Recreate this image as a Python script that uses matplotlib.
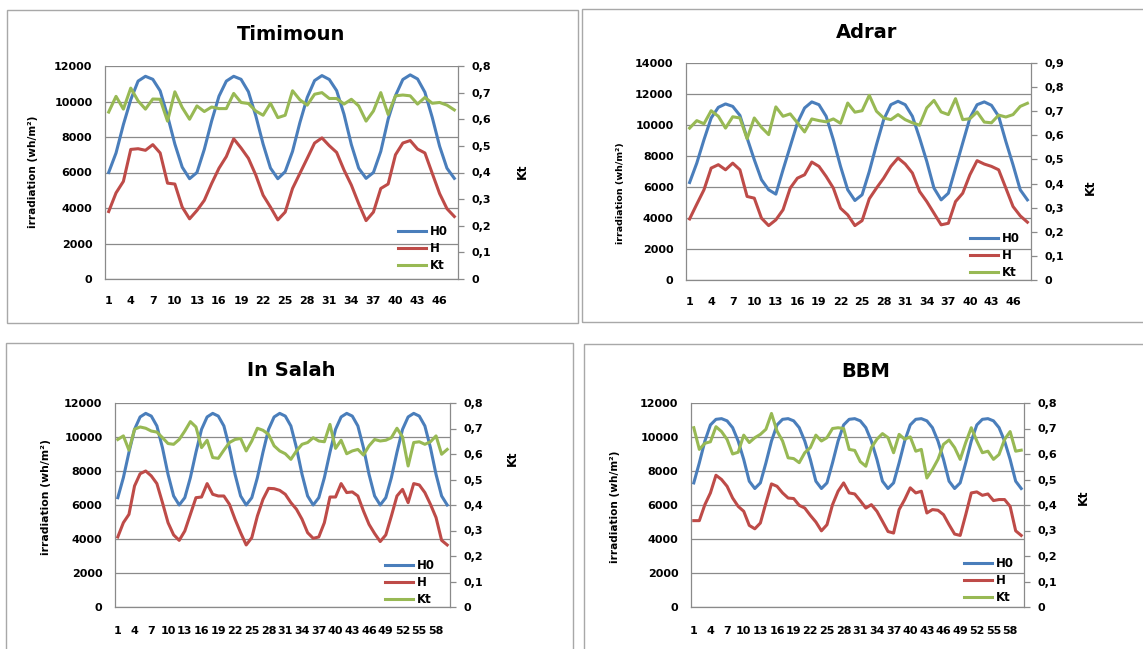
import matplotlib
matplotlib.use('Agg')
import matplotlib.pyplot as plt
from matplotlib.patches import Rectangle
from matplotlib.ticker import FuncFormatter

plt.rcParams['font.family'] = ['DejaVu Sans']
plt.rcParams['font.weight'] = 'bold'

# ---- data ----
timimoun_h0 = [6000, 7100, 8700, 10100, 11150, 11420, 11250, 10600, 9200, 7600, 6300, 5650,
               6000, 7300, 8900, 10300, 11150, 11420, 11250, 10550, 9200, 7600, 6250, 5650,
               6050, 7190, 8810, 10230, 11180, 11460, 11240, 10610, 9280, 7570, 6240, 5670,
               6000, 7190, 9000, 10330, 11240, 11500, 11270, 10520, 9100, 7480, 6240, 5670]
timimoun_h = [3800, 4850, 5500, 7300, 7340, 7250, 7570, 7100, 5400, 5350, 4050, 3390,
              3860, 4430, 5380, 6240, 6900, 7900, 7380, 6800, 5860, 4720, 4050, 3330,
              3770, 5100, 5950, 6800, 7660, 7950, 7510, 7130, 6140, 5290, 4240, 3290,
              3770, 5100, 5350, 7000, 7660, 7800, 7320, 7100, 5950, 4810, 3960, 3520]
timimoun_kt = [0.627, 0.686, 0.638, 0.717, 0.669, 0.638, 0.676, 0.675, 0.593, 0.703, 0.644, 0.600,
               0.650, 0.629, 0.646, 0.640, 0.640, 0.697, 0.663, 0.659, 0.631, 0.615, 0.660, 0.606,
               0.615, 0.707, 0.673, 0.653, 0.694, 0.700, 0.678, 0.678, 0.657, 0.675, 0.650, 0.593,
               0.631, 0.700, 0.618, 0.688, 0.691, 0.688, 0.657, 0.682, 0.660, 0.663, 0.653, 0.635]

adrar_h0 = [6290, 7540, 9050, 10450, 11140, 11360, 11200, 10620, 9160, 7760, 6470, 5820,
            5540, 7110, 8620, 10130, 11100, 11490, 11310, 10560, 9050, 7330, 5820, 5130,
            5500, 7000, 8730, 10340, 11310, 11530, 11310, 10560, 9160, 7650, 5930, 5170,
            5600, 7220, 8840, 10450, 11310, 11490, 11270, 10560, 8940, 7430, 5820, 5170]
adrar_h = [3940, 4890, 5820, 7220, 7440, 7110, 7540, 7110, 5390, 5280, 3990, 3510,
           3880, 4530, 5930, 6570, 6790, 7610, 7330, 6680, 5930, 4630, 4200, 3510,
           3830, 5240, 5930, 6570, 7330, 7870, 7480, 6900, 5710, 5060, 4310, 3560,
           3660, 5060, 5600, 6790, 7700, 7480, 7330, 7110, 5930, 4740, 4140, 3730]
adrar_kt = [0.630, 0.661, 0.648, 0.702, 0.679, 0.630, 0.677, 0.672, 0.586, 0.672, 0.633, 0.603,
            0.718, 0.679, 0.689, 0.652, 0.614, 0.668, 0.661, 0.656, 0.668, 0.650, 0.734, 0.696,
            0.702, 0.766, 0.700, 0.672, 0.665, 0.686, 0.665, 0.652, 0.642, 0.714, 0.745, 0.697,
            0.686, 0.752, 0.665, 0.669, 0.697, 0.655, 0.652, 0.684, 0.676, 0.686, 0.720, 0.733]

insalah_h0 = [6430, 7610, 9100, 10450, 11180, 11390, 11230, 10650, 9370, 7800, 6530, 6000,
              6430, 7610, 9100, 10450, 11180, 11390, 11230, 10650, 9370, 7800, 6530, 6000,
              6430, 7610, 9100, 10450, 11180, 11390, 11230, 10650, 9370, 7800, 6530, 6000,
              6430, 7610, 9100, 10450, 11180, 11390, 11230, 10650, 9370, 7800, 6530, 6000,
              6430, 7610, 9100, 10450, 11180, 11390, 11230, 10650, 9370, 7800, 6530, 6000]
insalah_h = [4120, 4960, 5450, 7120, 7840, 8000, 7710, 7260, 6140, 4960, 4240, 3920,
             4470, 5450, 6430, 6470, 7260, 6630, 6530, 6530, 6040, 5160, 4370, 3650,
             4080, 5350, 6330, 6980, 6960, 6860, 6630, 6140, 5750, 5160, 4370, 4040,
             4120, 4960, 6470, 6470, 7260, 6730, 6770, 6530, 5650, 4860, 4320, 3850,
             4240, 5350, 6530, 6920, 6140, 7260, 7180, 6730, 6040, 5260, 3920, 3650]
insalah_kt = [0.657, 0.671, 0.615, 0.697, 0.706, 0.701, 0.690, 0.686, 0.664, 0.641, 0.638, 0.657,
              0.690, 0.727, 0.706, 0.625, 0.654, 0.586, 0.583, 0.615, 0.645, 0.657, 0.661, 0.612,
              0.651, 0.701, 0.693, 0.677, 0.632, 0.612, 0.601, 0.579, 0.612, 0.638, 0.645, 0.664,
              0.651, 0.648, 0.716, 0.622, 0.654, 0.601, 0.612, 0.618, 0.596, 0.632, 0.657, 0.651,
              0.654, 0.664, 0.701, 0.667, 0.553, 0.645, 0.648, 0.638, 0.648, 0.671, 0.599, 0.618]

bbm_h0 = [7300, 8480, 9760, 10710, 11040, 11080, 10950, 10550, 9760, 8680, 7400, 6970,
          7300, 8480, 9760, 10710, 11040, 11080, 10950, 10550, 9760, 8680, 7400, 6970,
          7300, 8480, 9760, 10710, 11040, 11080, 10950, 10550, 9760, 8680, 7400, 6970,
          7300, 8480, 9760, 10710, 11040, 11080, 10950, 10550, 9760, 8680, 7400, 6970,
          7300, 8480, 9760, 10710, 11040, 11080, 10950, 10550, 9760, 8680, 7400, 6970]
bbm_h = [5080, 5080, 6020, 6710, 7750, 7500, 7100, 6410, 5920, 5630, 4800, 4600,
         4940, 6120, 7240, 7100, 6710, 6410, 6380, 5980, 5820, 5390, 5000, 4480,
         4840, 6020, 6810, 7300, 6710, 6650, 6250, 5820, 6020, 5630, 5040, 4440,
         4350, 5730, 6320, 7010, 6710, 6810, 5530, 5730, 5690, 5430, 4840, 4290,
         4210, 5430, 6710, 6770, 6570, 6650, 6260, 6320, 6320, 5920, 4480, 4210]
bbm_kt = [0.703, 0.618, 0.642, 0.648, 0.707, 0.688, 0.657, 0.600, 0.607, 0.674, 0.645, 0.664,
          0.677, 0.697, 0.759, 0.690, 0.651, 0.585, 0.582, 0.566, 0.605, 0.625, 0.674, 0.651,
          0.664, 0.700, 0.703, 0.700, 0.618, 0.614, 0.570, 0.552, 0.625, 0.658, 0.680, 0.664,
          0.605, 0.677, 0.658, 0.667, 0.611, 0.618, 0.506, 0.539, 0.579, 0.638, 0.655, 0.625,
          0.579, 0.645, 0.703, 0.651, 0.605, 0.611, 0.579, 0.598, 0.657, 0.688, 0.611, 0.615]

W, H = 1143, 649
c_h0 = '#4a7ebb'
c_h = '#be4b48'
c_kt = '#98b954'
gray = '#8a8a8a'


def fx(x):
    return x / W


def fy(y):
    return 1 - y / H


def kt_fmt(v, pos):
    if abs(v) < 1e-9:
        return '0'
    return ('%.1f' % v).replace('.', ',')


def panel(fig, plot_box, title, h0, h, kt, ymax, ktmax, title_xy, ylab_xy, ylab_size,
          kt_xy, leg_xy, xpad):
    l, t, r, b = plot_box
    ax = fig.add_axes([fx(l), fy(b), (r - l) / W, (b - t) / H])
    n = len(h0)
    x = list(range(1, n + 1))
    ax.plot(x, h0, color=c_h0, lw=2.2, label='H0')
    ax.plot(x, h, color=c_h, lw=2.2, label='H')
    ax.set_xlim(0.5, n + 0.5)
    ax.set_ylim(0, ymax)
    ax.set_yticks(range(0, ymax + 1, 2000))
    ax.set_xticks(range(1, n + 1, 3))
    ax.yaxis.grid(True, color=gray, lw=0.9)
    ax.set_axisbelow(True)
    ax.tick_params(axis='y', length=0, pad=9, labelsize=8)
    ax.tick_params(axis='x', length=0, pad=xpad, labelsize=8)
    for s in ['top', 'right']:
        ax.spines[s].set_visible(False)
    for s in ['left', 'bottom']:
        ax.spines[s].set_color(gray)
        ax.spines[s].set_linewidth(0.9)

    ax2 = ax.twinx()
    ax2.plot(x, kt, color=c_kt, lw=2.2, label='Kt')
    ax2.set_ylim(0, ktmax)
    ax2.set_yticks([i / 10 for i in range(0, int(round(ktmax * 10)) + 1)])
    ax2.yaxis.set_major_formatter(FuncFormatter(kt_fmt))
    ax2.tick_params(axis='y', length=4, width=0.9, color=gray, pad=6, labelsize=8)
    for s in ['top', 'left', 'bottom']:
        ax2.spines[s].set_visible(False)
    ax2.spines['right'].set_color(gray)
    ax2.spines['right'].set_linewidth(0.9)

    handles = ax.get_lines() + ax2.get_lines()
    ax2.legend(handles, [hh.get_label() for hh in handles], loc='upper left',
               bbox_to_anchor=(fx(leg_xy[0]), fy(leg_xy[1])), bbox_transform=fig.transFigure,
               frameon=False, fontsize=8.5, handlelength=2.4, handletextpad=0.3,
               labelspacing=0.35, borderpad=0, borderaxespad=0)

    fig.text(fx(title_xy[0]), fy(title_xy[1]), title, fontsize=14, fontweight='bold',
             ha='center', va='center')
    fig.text(fx(ylab_xy[0]), fy(ylab_xy[1]), 'irradiation (wh/m²)', fontsize=ylab_size,
             fontweight='bold', rotation=90, ha='center', va='center')
    fig.text(fx(kt_xy[0]), fy(kt_xy[1]), 'Kt', fontsize=9, fontweight='bold',
             rotation=90, ha='center', va='center')


fig = plt.figure(figsize=(W / 100, H / 100), dpi=100)

# panel frames
for (l, t, r, b) in [(7, 10, 578, 323), (582, 9, 1150, 322), (6, 343, 573, 660), (584, 344, 1150, 660)]:
    fig.add_artist(Rectangle((fx(l), fy(b)), (r - l) / W, (b - t) / H, transform=fig.transFigure,
                             fill=False, ec='#a8a8a8', lw=1))

panel(fig, (105, 66, 458, 279), 'Timimoun', timimoun_h0, timimoun_h, timimoun_kt, 12000, 0.8,
      (291, 35), (33, 172), 7.6, (522, 171), (398, 225), 12)
panel(fig, (686, 63, 1031, 280), 'Adrar', adrar_h0, adrar_h, adrar_kt, 14000, 0.9,
      (867, 33), (621, 193), 6.8, (1090, 187), (970, 232), 12)
panel(fig, (115, 403, 450, 607), 'In Salah', insalah_h0, insalah_h, insalah_kt, 12000, 0.8,
      (291, 371), (46, 497), 7.8, (512, 458), (385, 559), 14)
panel(fig, (691, 403, 1024, 607), 'BBM', bbm_h0, bbm_h, bbm_kt, 12000, 0.8,
      (866, 372), (615, 507), 7.6, (1083, 497), (964, 557), 14)

fig.savefig('out.png', dpi=100)
